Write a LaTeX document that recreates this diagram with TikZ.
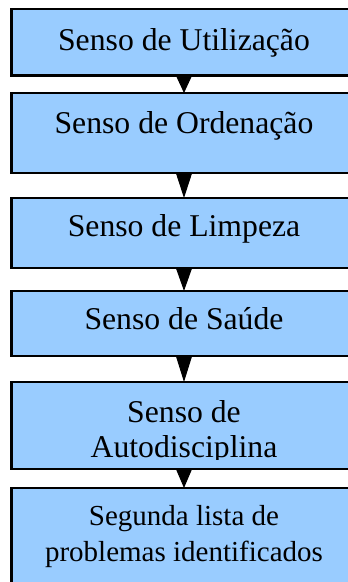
\documentclass[tikz,border=0pt]{standalone}
\usepackage{fontspec}
\setmainfont{Liberation Serif}
\usetikzlibrary{arrows.meta}
\definecolor{boxblue}{HTML}{99CCFF}
\begin{document}
\begin{tikzpicture}[x=1pt,y=-1pt,
  sbox/.style={draw=black, fill=boxblue, line width=2.6pt, rectangle, outer sep=0pt, inner sep=0pt, minimum width=345pt, anchor=north west},
  lbl/.style={anchor=base, inner sep=0pt, font=\fontsize{31.7}{36}\selectfont},
  lblsmall/.style={anchor=base, inner sep=0pt, font=\fontsize{29}{34}\selectfont},
  conn/.style={-{Triangle[width=16pt,length=#1]}, line width=1pt}]
\useasboundingbox (0,0) rectangle (348,582);
\clip (0,0) rectangle (348,582);
\node[sbox, minimum height=66.5pt] (b1) at (11.5,9) {};
\node[sbox, minimum height=80pt] (b2) at (11.5,93) {};
\node[sbox, minimum height=70pt] (b3) at (11.5,198) {};
\node[sbox, minimum height=65pt] (b4) at (11.5,291) {};
\node[sbox, minimum height=87pt] (b5) at (11.5,382) {};
\node[sbox, minimum height=120pt] (b6) at (11.5,488) {};
\node[lbl] (t1) at (184,50) {Senso de Utilização};
\node[lbl] (t2) at (184,133) {Senso de Ordenação};
\node[lbl] (t3) at (184,236) {Senso de Limpeza};
\node[lbl] (t4) at (184,329) {Senso de Saúde};
\node[lbl] (t5a) at (184,422) {Senso de};
\begin{scope}
\clip (0,382) rectangle (348,459);
\node[lbl] (t5b) at (184,457) {Autodisciplina};
\end{scope}
\node[lblsmall] (t6a) at (184,525) {Segunda lista de};
\node[lblsmall] (t6b) at (184,561) {problemas identificados};
\draw[conn=17.5pt] (b1.south) -- (b2.north);
\draw[conn=25pt] (b2.south) -- (b3.north);
\draw[conn=23pt] (b3.south) -- (b4.north);
\draw[conn=26pt] (b4.south) -- (b5.north);
\draw[conn=19pt] (b5.south) -- (b6.north);
\end{tikzpicture}
\end{document}
